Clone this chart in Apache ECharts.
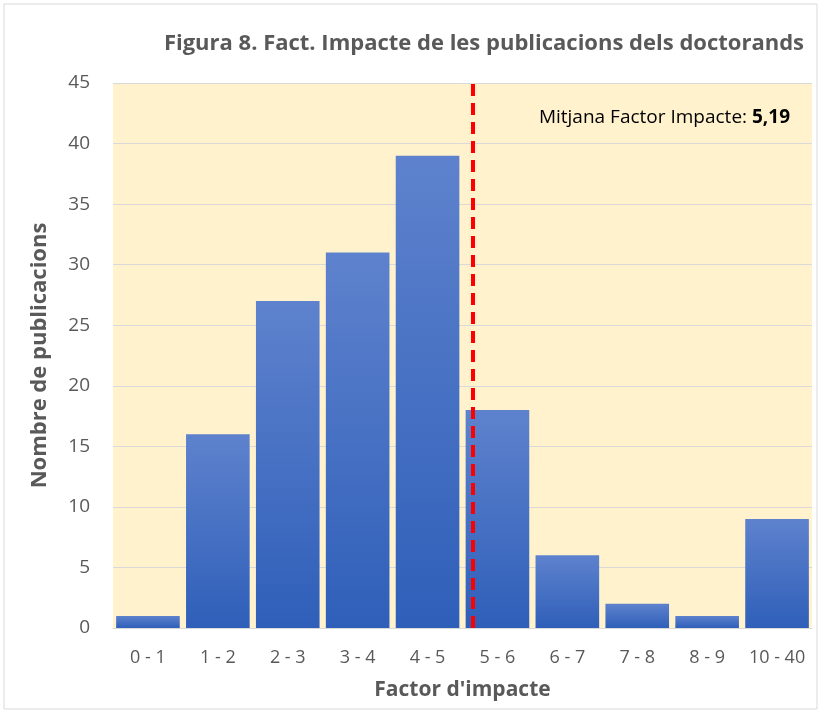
<!DOCTYPE html>
<html>
<head>
<meta charset="utf-8">
<script src="https://cdn.jsdelivr.net/npm/echarts@6/dist/echarts.min.js"></script>
<style>
html, body { margin: 0; padding: 0; background: #fff; }
#chart { width: 821px; height: 713px; }
</style>
</head>
<body>
<div id="chart"></div>
<script>
// dades del gràfic
var categories = ['0 - 1', '1 - 2', '2 - 3', '3 - 4', '4 - 5', '5 - 6', '6 - 7', '7 - 8', '8 - 9', '10 - 40'];
var publicacions = [1, 16, 27, 31, 39, 18, 6, 2, 1, 9];
var mitjana = 5.19;

var chart = echarts.init(document.getElementById('chart'));
var grisText = '#595959';
var font = 'Open Sans';

var option = {
    backgroundColor: '#fff',
    title: {
        text: 'Figura 8. Fact. Impacte de les publicacions dels doctorands',
        right: 12,
        top: 28,
        textStyle: { fontFamily: font, fontSize: 22, fontWeight: 'bold', color: grisText }
    },
    grid: { left: 113, right: 9, top: 83, bottom: 85, show: true, backgroundColor: '#FFF2CC', borderWidth: 0 },
    xAxis: [{
        type: 'category',
        data: categories,
        axisTick: { show: false },
        axisLine: { lineStyle: { color: '#D9D9D9', width: 1 } },
        axisLabel: { color: grisText, fontFamily: font, fontSize: 18, margin: 21, interval: 0 },
        name: "Factor d'impacte",
        nameLocation: 'middle',
        nameGap: 52,
        nameTextStyle: { color: grisText, fontFamily: font, fontSize: 21, fontWeight: 'bold' }
    }, {
        type: 'value',
        min: -0.5,
        max: 9.5,
        show: false
    }],
    yAxis: {
        type: 'value',
        min: 0,
        max: 45,
        interval: 5,
        axisLine: { show: false },
        axisTick: { show: false },
        splitLine: { lineStyle: { color: '#D9D9D9' } },
        axisLabel: { color: grisText, fontFamily: font, fontSize: 19, margin: 23 },
        name: 'Nombre de publicacions',
        nameLocation: 'middle',
        nameGap: 62,
        nameTextStyle: { color: grisText, fontFamily: font, fontSize: 22, fontWeight: 'bold' }
    },
    series: [{
        type: 'bar',
        data: publicacions,
        barCategoryGap: '9%',
        itemStyle: {
            color: new echarts.graphic.LinearGradient(0, 0, 0, 1, [
                { offset: 0, color: '#5E82CD' },
                { offset: 1, color: '#2F5FB9' }
            ]),
            shadowColor: 'rgba(0,0,0,0.3)',
            shadowBlur: 3,
            shadowOffsetX: 1,
            shadowOffsetY: 1
        }
    }, {
        type: 'scatter',
        xAxisIndex: 1,
        data: [],
        markLine: {
            symbol: 'none',
            silent: true,
            label: { show: false },
            lineStyle: { color: '#FF0000', type: [12, 7], width: 4 },
            data: [{ xAxis: mitjana - 0.55 }]
        }
    }],
    graphic: [{
        type: 'rect',
        shape: { x: 4, y: 4, width: 813, height: 705 },
        style: { fill: 'none', stroke: '#D9D9D9', lineWidth: 1 }
    }, {
        type: 'text',
        right: 31,
        top: 108,
        style: {
            text: '{n|Mitjana Factor Impacte: }{b|' + mitjana.toFixed(2).replace('.', ',') + '}',
            rich: {
                n: { fontFamily: font, fontSize: 19, color: '#000' },
                b: { fontFamily: font, fontSize: 19, fontWeight: 'bold', color: '#000' }
            }
        }
    }]
};
chart.setOption(option);
</script>
</body>
</html>
